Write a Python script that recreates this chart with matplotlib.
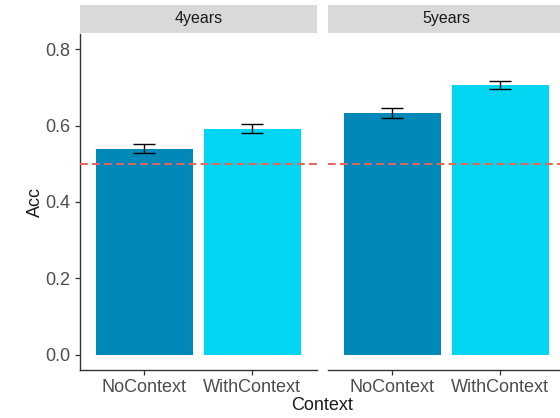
import matplotlib.pyplot as plt
import numpy as np

plt.rcParams['font.family'] = ['Liberation Sans', 'DejaVu Sans']

# Accuracy by context condition, one facet per age group
ages = ['4years', '5years']
contexts = ['NoContext', 'WithContext']
acc_mean = {'4years': [0.540, 0.592], '5years': [0.633, 0.706]}
acc_se = {'4years': [0.0125, 0.0115], '5years': [0.0125, 0.011]}
chance = 0.5

bar_colors = ['#0089B8', '#00D6F1']
W, H = 560, 418

fig = plt.figure(figsize=(W / 100, H / 100), dpi=100)

# panel geometry in pixels
panel_left = [79.7, 327.7]
panel_w = 237
panel_top, panel_bot = 34, 370
strip_top, strip_bot = 5, 33

x = np.arange(len(contexts))
for i, age in enumerate(ages):
    ax = fig.add_axes([panel_left[i] / W, 1 - panel_bot / H,
                       panel_w / W, (panel_bot - panel_top) / H])
    ax.bar(x, acc_mean[age], width=0.9, color=bar_colors, zorder=2)
    ax.errorbar(x, acc_mean[age], yerr=acc_se[age], fmt='none',
                ecolor='black', elinewidth=1.0, capsize=8, capthick=1.0, zorder=3)
    ax.axhline(chance, color='#EC625A', lw=1.4, ls=(0, (4, 2.2)), zorder=4)
    ax.set_xlim(-0.6, 1.6)
    ax.set_ylim(-0.04, 0.84)
    ax.set_xticks(x)
    ax.set_xticklabels(contexts)
    ax.set_yticks([0.0, 0.2, 0.4, 0.6, 0.8])
    ax.set_yticklabels(['0.0', '0.2', '0.4', '0.6', '0.8'])
    ax.tick_params(axis='both', colors='#333333', labelcolor='#4D4D4D',
                   labelsize=13, length=3.5, width=0.9, pad=3)
    for side in ['top', 'right']:
        ax.spines[side].set_visible(False)
    ax.spines['bottom'].set_color('#333333')
    ax.spines['bottom'].set_linewidth(1.0)
    if i == 0:
        ax.spines['left'].set_color('#333333')
        ax.spines['left'].set_linewidth(1.0)
        ax.set_ylabel('Acc', fontsize=13, color='#1A1A1A', labelpad=1)
    else:
        ax.spines['left'].set_visible(False)
        ax.tick_params(axis='y', left=False, labelleft=False)

    # facet strip
    sax = fig.add_axes([panel_left[i] / W, 1 - strip_bot / H,
                        panel_w / W, (strip_bot - strip_top) / H])
    sax.set_facecolor('#D9D9D9')
    sax.set_xticks([])
    sax.set_yticks([])
    for s in sax.spines.values():
        s.set_visible(False)
    sax.text(0.5, 0.5, age, ha='center', va='center', fontsize=11.5,
             color='#1A1A1A', transform=sax.transAxes)

fig.text(322 / W, 1 - 406 / H, 'Context', ha='center', va='center',
         fontsize=13, color='#1A1A1A')

plt.savefig('out.png', dpi=100)
